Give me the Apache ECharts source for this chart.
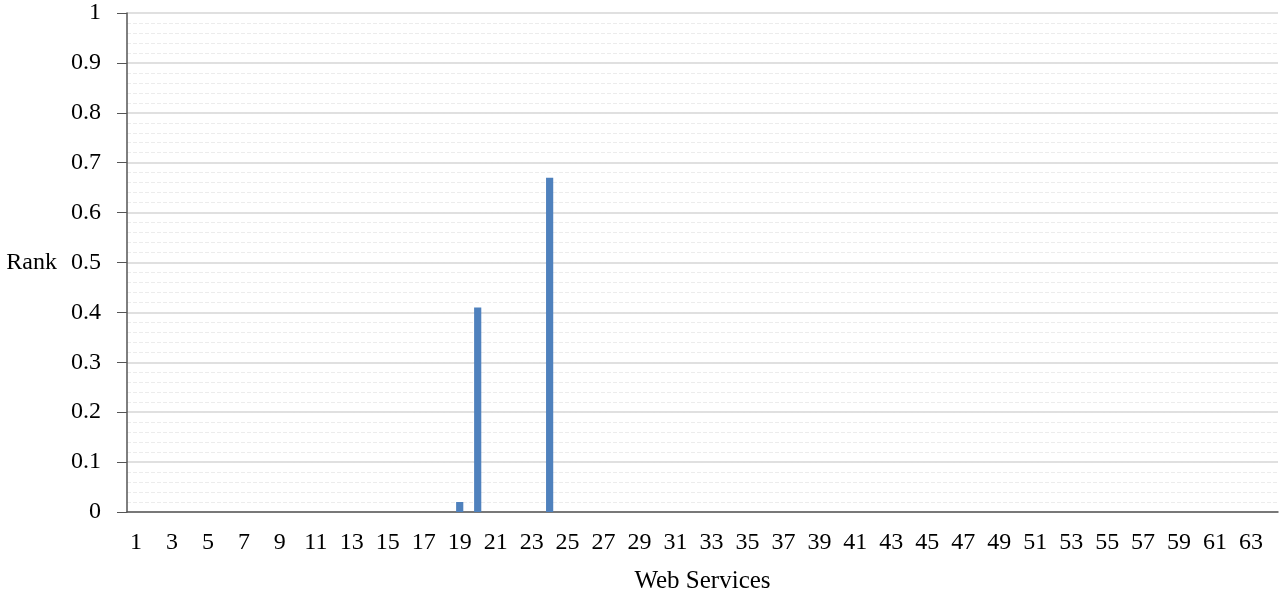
<!DOCTYPE html>
<html>
<head>
<meta charset="utf-8">
<script src="https://cdn.jsdelivr.net/npm/echarts@6/dist/echarts.min.js"></script>
<style>
html, body { margin: 0; padding: 0; background: #fff; }
#main { width: 1283px; height: 595px; }
</style>
</head>
<body>
<div id="main"></div>
<script>
// web services 1..64
var services = [];
for (var i = 1; i <= 64; i++) services.push(String(i));

// only a few services got a non-zero rank
var rankValues = {19: 0.02, 20: 0.41, 24: 0.67};
var ranks = services.map(function (s) { return rankValues[s] || 0; });

var myChart = echarts.init(document.getElementById('main'));

var font = '"Liberation Serif", "Times New Roman", serif';

option = {
    animation: false,
    grid: {
        left: 127,
        right: 5,
        top: 13,
        bottom: 83,
        outerBoundsMode: 'none'
    },
    xAxis: {
        type: 'category',
        data: services,
        name: 'Web Services',
        nameLocation: 'middle',
        nameGap: 57,
        nameTextStyle: { fontFamily: font, fontSize: 25, color: '#000' },
        axisLine: { lineStyle: { color: '#555', width: 1.5 } },
        axisTick: { interval: 0, length: 6, lineStyle: { color: '#555' } },
        axisLabel: {
            interval: 1,
            margin: 19,
            fontFamily: font,
            fontSize: 24,
            color: '#000'
        }
    },
    yAxis: {
        type: 'value',
        min: 0,
        max: 1,
        interval: 0.1,
        name: 'Rank',
        nameLocation: 'middle',
        nameRotate: 0,
        nameGap: 70,
        nameTextStyle: { fontFamily: font, fontSize: 24, color: '#000' },
        axisLine: { show: true, lineStyle: { color: '#555', width: 1.5 } },
        axisTick: { show: true, length: 10, lineStyle: { color: '#555' } },
        axisLabel: {
            margin: 26,
            fontFamily: font,
            fontSize: 24,
            color: '#000'
        },
        splitLine: { lineStyle: { color: '#d6d6d6', width: 1.5 } },
        minorTick: { show: false, splitNumber: 5 },
        minorSplitLine: { show: true, lineStyle: { color: '#ececec', type: 'dashed' } }
    },
    series: [
        {
            name: 'Rank',
            type: 'bar',
            data: ranks,
            barWidth: '40%',
            itemStyle: { color: '#4F81BD' }
        }
    ]
};

myChart.setOption(option);
</script>
</body>
</html>
